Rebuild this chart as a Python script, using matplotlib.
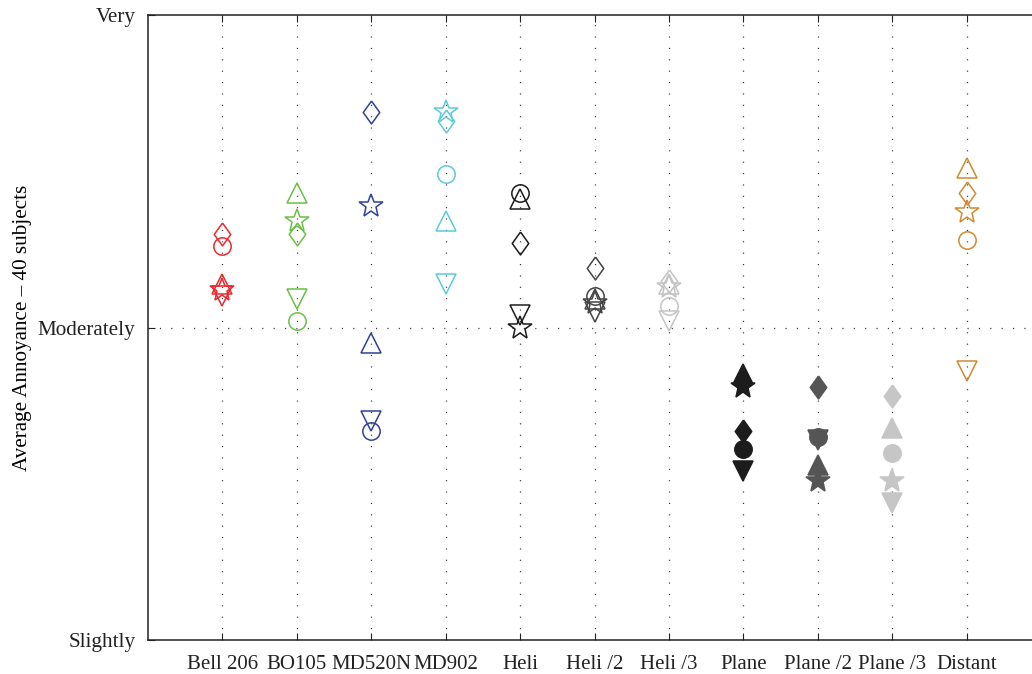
import matplotlib
matplotlib.use("Agg")
import matplotlib.pyplot as plt

plt.rcParams['font.family'] = ['Liberation Serif', 'DejaVu Serif']

categories = ["Bell 206", "BO105", "MD520N", "MD902", "Heli", "Heli /2",
              "Heli /3", "Plane", "Plane /2", "Plane /3", "Distant"]
level_labels = ["Slightly", "Moderately", "Very"]
level_values = [1, 2, 3]

# Average annoyance per measure (one list per marker shape)
circle_vals   = [2.26, 2.02, 1.67, 2.49, 2.43, 2.10, 2.07, 1.61, 1.65, 1.60, 2.28]
tri_up_vals   = [2.14, 2.43, 1.95, 2.34, 2.41, 2.09, 2.14, 1.85, 1.56, 1.68, 2.51]
tri_down_vals = [2.10, 2.09, 1.70, 2.14, 2.04, 2.05, 2.02, 1.54, 1.64, 1.44, 1.86]
diamond_vals  = [2.30, 2.30, 2.69, 2.66, 2.27, 2.19, 2.15, 1.67, 1.81, 1.78, 2.43]
star_vals     = [2.12, 2.34, 2.39, 2.69, 2.00, 2.08, 2.13, 1.81, 1.51, 1.51, 2.37]

colors = ["#e82a2e", "#6cc045", "#2e429a", "#5dc9dd", "#1c1c1c", "#444444",
          "#c4c4c4", "#1c1c1c", "#555555", "#c6c6c6", "#d08a30"]
filled = [False] * 7 + [True] * 3 + [False]

tall_diamond = [(0, 1), (0.72, 0), (0, -1), (-0.72, 0), (0, 1)]
series = [
    (circle_vals, "o", 12.5),
    (tri_up_vals, "^", 15),
    (tri_down_vals, "v", 15),
    (diamond_vals, tall_diamond, 16.5),
    (star_vals, "*", 18),
]

fig = plt.figure(figsize=(10.32, 6.74), dpi=100)
ax = fig.add_axes([148 / 1032, 34 / 674, 893 / 1032, 625 / 674])

xs = list(range(1, len(categories) + 1))
for vals, mk, ms in series:
    for x, v, c, f in zip(xs, vals, colors, filled):
        ax.plot([x], [v], linestyle="none", marker=mk, markersize=ms,
                markeredgecolor=c, markerfacecolor=c if f else "none",
                markeredgewidth=1.1, zorder=3)

ax.set_xlim(0, 12)
ax.set_ylim(1, 3)
ax.set_xticks(xs)
ax.set_xticklabels(categories, fontsize=15)
ax.set_yticks(level_values)
ax.set_yticklabels(level_labels, fontsize=15.2)
ax.set_ylabel("Average Annoyance \u2013 40 subjects", fontsize=15.2, labelpad=4)

ax.tick_params(axis="both", direction="in", length=5, width=0.8,
               top=True, right=False, pad=9, colors="#222222")
ax.tick_params(axis="x", pad=11)

for x in xs:
    ax.axvline(x, color="#333333", linewidth=0.9, linestyle=(0, (0.9, 8.2)), zorder=1)
ax.axhline(2, color="#333333", linewidth=0.9, linestyle=(0, (0.9, 8.2)), zorder=1)

for side in ["left", "bottom", "top", "right"]:
    ax.spines[side].set_linewidth(1.1)
    ax.spines[side].set_color("#222222")

fig.savefig("out.png", dpi=100)
